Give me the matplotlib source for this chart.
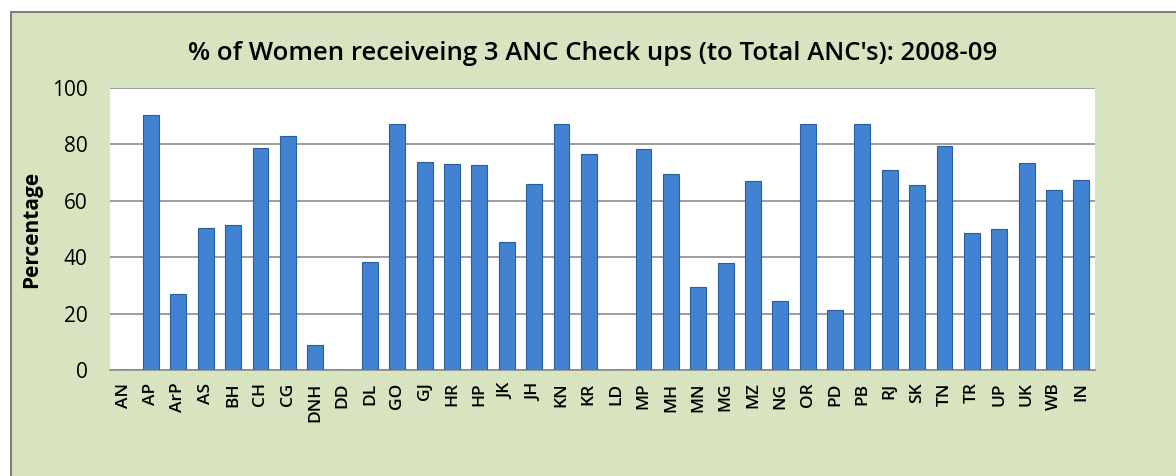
import matplotlib
matplotlib.use('Agg')
import matplotlib.pyplot as plt
from matplotlib.patches import Rectangle

states = ['AN', 'AP', 'ArP', 'AS', 'BH', 'CH', 'CG', 'DNH', 'DD', 'DL', 'GO', 'GJ',
          'HR', 'HP', 'JK', 'JH', 'KN', 'KR', 'LD', 'MP', 'MH', 'MN', 'MG', 'MZ',
          'NG', 'OR', 'PD', 'PB', 'RJ', 'SK', 'TN', 'TR', 'UP', 'UK', 'WB', 'IN']
pct = [0, 90.4, 27.1, 50.5, 51.4, 78.6, 83.1, 8.8, 0, 38.3, 87.2, 73.7,
       73.1, 72.8, 45.4, 66.1, 87.2, 76.6, 0, 78.4, 69.6, 29.5, 37.8, 66.9,
       24.4, 87.2, 21.2, 87.2, 71.0, 65.7, 79.5, 48.6, 50.0, 73.4, 63.7, 67.5]
yticks = [0, 20, 40, 60, 80, 100]

title = "% of Women receiveing 3 ANC Check ups (to Total ANC's): 2008-09"

fig = plt.figure(figsize=(11.76, 4.76), dpi=100)
fig.patch.set_facecolor('white')

# green chart area with grey frame
W, H = 1176, 476
fig.patches.append(Rectangle((11 / W, -0.1), 1.2, 1.1 - 12 / H, transform=fig.transFigure,
                             facecolor='#d8e4bf', edgecolor='#7f7f7f', lw=1.5, zorder=-1))

ax = fig.add_axes([110 / W, 1 - 370 / H, (1095 - 110) / W, (370 - 88) / H])
ax.set_facecolor('white')

x = range(len(states))
ax.bar(x, pct, width=0.58, color='#4182d2', edgecolor='#2b5e9e', lw=0.8, zorder=3)

ax.set_xlim(-0.5, len(states) - 0.5)
ax.set_ylim(0, 100)
ax.set_yticks(yticks)
ax.set_yticklabels([str(t) for t in yticks], fontsize=15, fontfamily='Open Sans')
ax.set_xticks(list(x))
ax.set_xticklabels(states, rotation=90, fontsize=12.5, fontweight='semibold',
                   fontfamily='Open Sans')
ax.tick_params(axis='both', length=0)
ax.tick_params(axis='y', pad=16)
ax.tick_params(axis='x', pad=9)
ax.yaxis.grid(True, color='#8c8c8c', lw=1.2, zorder=1)
for s in ['top', 'right', 'left']:
    ax.spines[s].set_visible(False)
ax.spines['bottom'].set_color('#8c8c8c')
ax.spines['bottom'].set_linewidth(1.2)

ax.set_ylabel('Percentage', fontsize=15, fontweight='bold', fontfamily='Open Sans')
ax.yaxis.set_label_coords(-0.069, 0.5)
fig.text(593 / W, 1 - 53 / H, title, ha='center', va='center',
         fontsize=18.5, fontweight='semibold', fontfamily='Open Sans')

fig.savefig('out.png', dpi=100, facecolor=fig.get_facecolor())
